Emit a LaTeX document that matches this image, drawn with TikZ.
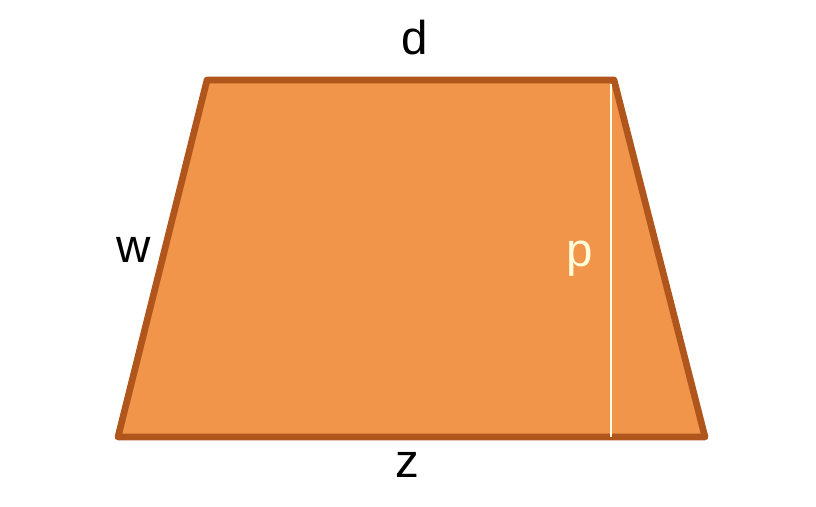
\documentclass[tikz,border=0pt]{standalone}
\usepackage{fontspec}
\setmainfont{Liberation Sans}
\usepackage{xcolor}
\usetikzlibrary{calc, positioning}
\definecolor{trapfill}{HTML}{F0954A}
\definecolor{trapedge}{HTML}{B0551C}

\begin{document}
\begin{tikzpicture}[x=0.01cm, y=-0.01cm, font=\fontsize{13.5}{16}\selectfont]
    \useasboundingbox (0,0) rectangle (816,506);
    % Các đỉnh của hình thang
    \coordinate (A) at (207,80);
    \coordinate (B) at (614,80);
    \coordinate (C) at (705,437);
    \coordinate (D) at (118,437);
    \coordinate (H) at (611,437);
    \coordinate (K) at (611,84);

    % Hình thang
    \draw[line width=1.9pt, line join=round, color=trapedge, fill=trapfill]
       (A) -- (B) -- (C) -- (D) -- cycle;
    % Đường cao
    \draw[line width=0.7pt, color=white!90!yellow] (K) -- (H);

    % Nhãn
    \node (d) at (415,38) {d};
    \node (w) at (134,250) {w};
    \node[text=white!85!yellow] (p) at (580,259) {p};
    \node (z) at (407,465) {z};
\end{tikzpicture}
\end{document}
